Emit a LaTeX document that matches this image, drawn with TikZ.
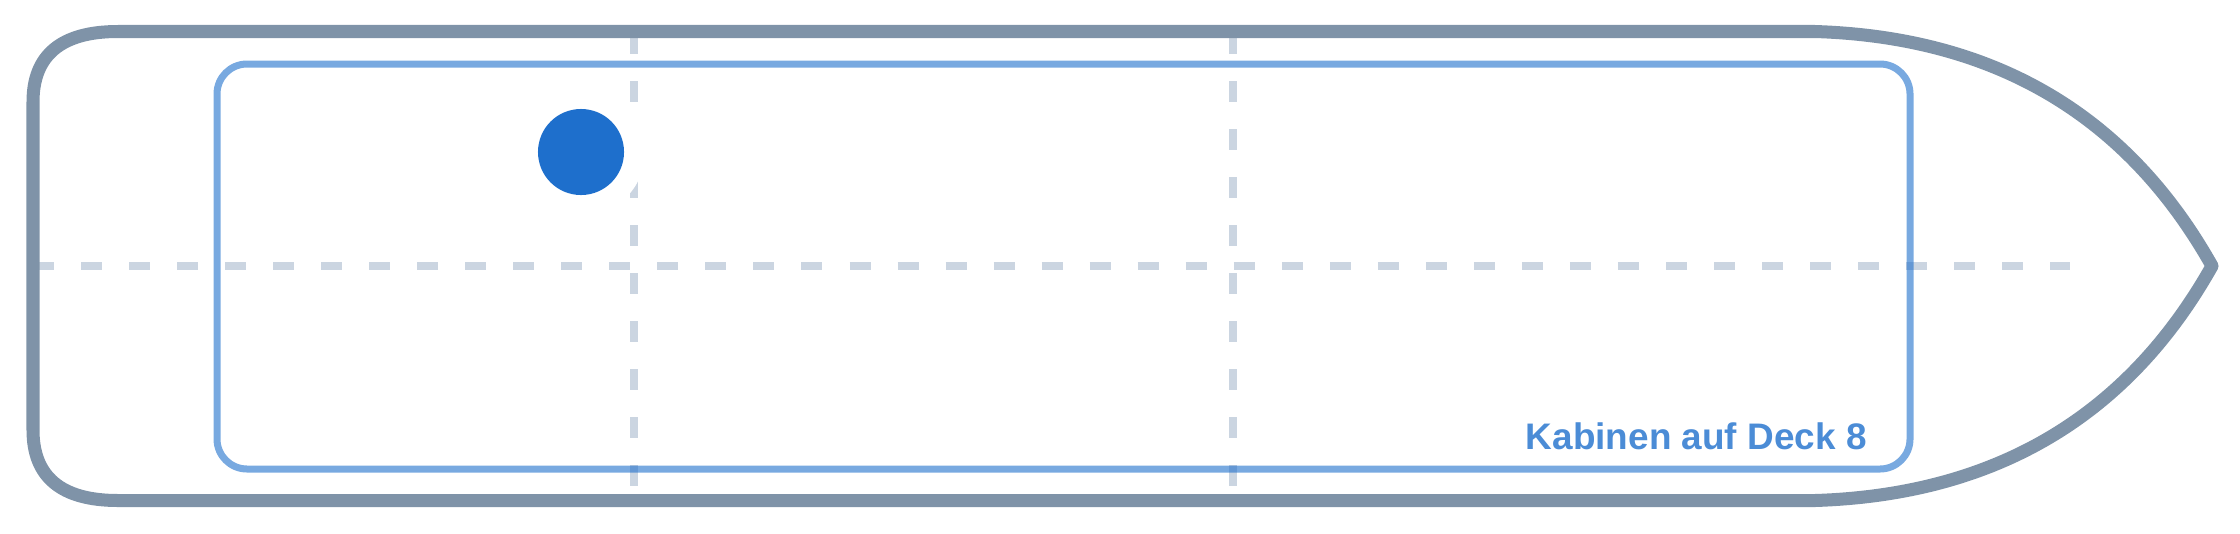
\documentclass[tikz,border=0pt]{standalone}
\usepackage{fontspec}
\setmainfont{Liberation Sans}
\usetikzlibrary{positioning}
\definecolor{hullgray}{RGB}{127,147,168}
\definecolor{deckblue}{RGB}{30,111,204}
\definecolor{gridgray}{RGB}{203,213,225}

\begin{document}
\begin{tikzpicture}[x=0.01cm, y=-0.01cm,
        hull/.style={draw=hullgray, line width=0.13cm, line join=round}, % outline of the ship
        deck/.style={draw=deckblue, draw opacity=0.6, line width=0.07cm, rounded corners=0.3cm}, % cabin area
        gridline/.style={draw=gridgray, line width=0.073cm, dash pattern=on 0.21cm off 0.27cm},
        shipdot/.style={circle, fill=deckblue, minimum size=0.86cm, inner sep=0pt},
        decklabel/.style={text=deckblue, text opacity=0.8, font=\bfseries\fontsize{10.5}{12}\selectfont},
    ]
    \useasboundingbox (0,0) rectangle (2240,533);
    % grid lines
    \coordinate (midL) at (33,266);
    \coordinate (midR) at (2070,266);
    \coordinate (aTop) at (634,33);
    \coordinate (aBot) at (634,490);
    \coordinate (bTop) at (1233,33);
    \coordinate (bBot) at (1233,490);
    \draw[gridline] (midL) -- (midR);
    \draw[gridline] (aTop) -- (aBot);
    \draw[gridline] (bTop) -- (bBot);
    % cabin area
    \draw[deck] (217,64) rectangle (1910,469);
    % hull
    \draw[hull] (118,31.5) -- (1815,31.5)
        .. controls (1995,37.2) and (2127.3,115.3) .. (2212,266)
        .. controls (2127.3,416.7) and (1995,494.8) .. (1815,500.5)
        -- (118,500.5)
        .. controls (61.3,500.5) and (33,477) .. (33,430)
        -- (33,102)
        .. controls (33,55) and (61.3,31.5) .. (118,31.5) -- cycle;
    % position of the ship
    \node[circle, fill=white, minimum size=1.28cm, inner sep=0pt] (halo) at (581,152) {};
    \node[shipdot] (ship) at (halo) {};
    \node[decklabel, anchor=base east] (label) at (1879,449) {Kabinen auf Deck 8};
\end{tikzpicture}
\end{document}
